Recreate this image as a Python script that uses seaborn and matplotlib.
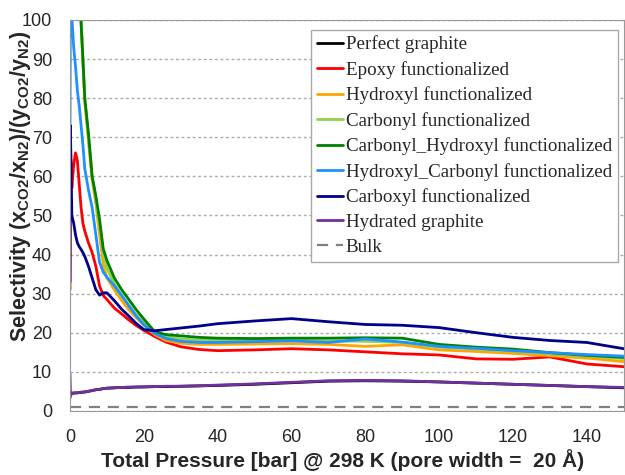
import matplotlib
matplotlib.use("Agg")
import matplotlib.pyplot as plt
import seaborn as sns
import pandas as pd

# pressure grid [bar]
pressure = [0, 0.1, 0.5, 1, 1.5, 2, 2.5, 3, 3.5, 4, 5, 6, 7, 8, 9, 10, 12, 14, 16, 18,
            20, 23, 26, 30, 35, 40, 50, 60, 70, 80, 90, 100, 110, 120, 130, 140, 150]

perfect_graphite = [3.3, 4.2, 4.5, 4.6, 4.6, 4.6, 4.7, 4.7, 4.8, 4.8, 5.0, 5.2, 5.4, 5.5, 5.7, 5.8,
                    5.9, 6.0, 6.0, 6.1, 6.1, 6.2, 6.2, 6.3, 6.4, 6.5, 6.8, 7.2, 7.6, 7.7, 7.6,
                    7.4, 7.1, 6.8, 6.5, 6.2, 5.9]
epoxy = [31, 68, 57, 63, 66, 64, 58, 52, 48, 46, 43, 40.5, 37, 32, 29.5, 28.5, 26.3, 24.8,
         23.2, 21.8, 20.6, 19.0, 17.6, 16.4, 15.7, 15.4, 15.6, 15.9, 15.6, 15.1, 14.6, 14.3,
         13.3, 13.2, 13.8, 12.0, 11.3]
hydroxyl = [160, 160, 150, 140, 130, 120, 110, 100, 89, 79, 69, 59, 53, 45, 37.5, 34, 31,
            28.2, 25.8, 23.8, 22, 19.5, 18, 17.3, 17.0, 17.0, 17.1, 17.2, 17.0, 16.5, 16.9,
            15.6, 15.2, 14.7, 14.1, 13.5, 12.6]
carbonyl = [160, 160, 150, 140, 130, 120, 110, 101, 90, 80, 70, 60, 54, 47.5, 40.5, 36.5,
            32.5, 29.5, 27, 24.5, 22.5, 20, 19, 18.4, 18.1, 18.0, 18.0, 18.0, 17.9, 17.8,
            17.5, 16.3, 15.8, 15.3, 14.6, 14.0, 13.4]
carbonyl_hydroxyl = [160, 160, 150, 140, 130, 120, 110, 99, 90, 80, 71, 60, 55, 49, 41.5,
                     38.5, 34, 31, 28.4, 25.8, 23.5, 20.2, 19.5, 19.2, 18.8, 18.6, 18.5, 18.6,
                     18.6, 18.7, 18.6, 17.0, 16.3, 15.8, 14.9, 14.2, 13.7]
hydroxyl_carbonyl = [70, 105, 101, 93, 88, 82, 78, 73, 68, 62, 56.5, 52, 45, 38, 35.5, 34.2,
                     32, 29.5, 26.8, 24.2, 22, 19.8, 18.5, 17.8, 17.5, 17.5, 17.7, 17.9, 17.5,
                     18.4, 17.6, 16.5, 16.0, 15.4, 14.9, 14.4, 14.0]
carboxyl = [33, 73, 50, 48, 45, 43, 42, 41.3, 40.5, 39.5, 37, 34, 31, 29.6, 30.2, 30.2, 28.2,
            26, 24.2, 22.3, 20.8, 20.5, 20.8, 21.2, 21.7, 22.3, 23.0, 23.6, 22.8, 22.1, 21.9,
            21.3, 20.0, 18.8, 18.0, 17.5, 15.9]
hydrated = [9.5, 5.0, 4.3, 4.5, 4.6, 4.6, 4.7, 4.8, 4.8, 4.9, 5.0, 5.2, 5.4, 5.5, 5.7, 5.8,
            5.9, 6.0, 6.1, 6.1, 6.2, 6.2, 6.3, 6.3, 6.4, 6.6, 6.9, 7.3, 7.7, 7.8, 7.7, 7.4,
            7.1, 6.8, 6.5, 6.2, 6.0]
bulk_x = [0, 150]
bulk_y = [1.0, 1.0]

series = [
    ("Perfect graphite", perfect_graphite, "#000000"),
    ("Epoxy functionalized", epoxy, "#ff0000"),
    ("Hydroxyl functionalized", hydroxyl, "#ffa500"),
    ("Carbonyl functionalized", carbonyl, "#92d050"),
    ("Carbonyl_Hydroxyl functionalized", carbonyl_hydroxyl, "#008000"),
    ("Hydroxyl_Carbonyl functionalized", hydroxyl_carbonyl, "#1e90ff"),
    ("Carboxyl functionalized", carboxyl, "#00008b"),
    ("Hydrated graphite", hydrated, "#7030a0"),
]

sns.set_style("white")
plt.rcParams["font.family"] = ["Liberation Sans", "DejaVu Sans"]
plt.rcParams["mathtext.fontset"] = "custom"
plt.rcParams["mathtext.bf"] = "Liberation Sans:bold"
plt.rcParams["mathtext.rm"] = "Liberation Sans:bold"
plt.rcParams["mathtext.default"] = "bf"

fig, ax = plt.subplots(figsize=(6.25, 4.75), dpi=100)
fig.subplots_adjust(left=0.112, right=0.998, bottom=0.135, top=0.958)

for name, vals, col in series:
    df = pd.DataFrame({"p": pressure, "s": vals})
    sns.lineplot(data=df, x="p", y="s", color=col, lw=2, label=name,
                 estimator=None, sort=False, ax=ax)
sns.lineplot(x=bulk_x, y=bulk_y, color="#808080", lw=1.6, ax=ax, label="Bulk",
             estimator=None, dashes=False, linestyle=(0, (5, 3.5)))

ax.set_xlim(0, 150)
ax.set_ylim(0, 100)
ax.set_xticks(range(0, 151, 20))
ax.set_yticks(range(0, 101, 10))
ax.yaxis.grid(True, ls=(0, (2, 2)), color="#aaaaaa", lw=1)
ax.xaxis.grid(False)
for s in ax.spines.values():
    s.set_color("#999999")
ax.tick_params(axis="x", direction="inout", length=6, color="#999999",
               labelsize=13, pad=10)
ax.tick_params(axis="y", length=0, labelsize=13, pad=13)

ax.set_xlabel("Total Pressure [bar] @ 298 K (pore width =  20 Å)",
              fontsize=15, fontweight="bold")
ax.xaxis.set_label_coords(0.493, -0.097)
ax.set_ylabel(r"Selectivity (x$_{CO2}$/x$_{N2}$)/(y$_{CO2}$/y$_{N2}$)",
              fontsize=15.5, fontweight="bold")
ax.yaxis.set_label_coords(-0.066, 0.573)

leg = ax.legend(loc="upper left", bbox_to_anchor=(0.436, 0.975), borderaxespad=0,
                prop={"family": "Liberation Serif", "size": 13.7}, handlelength=1.35,
                handletextpad=0.15, labelspacing=0.4, borderpad=0.3, fancybox=False,
                framealpha=1, edgecolor="#aaaaaa")

fig.savefig("out.png", dpi=100)
